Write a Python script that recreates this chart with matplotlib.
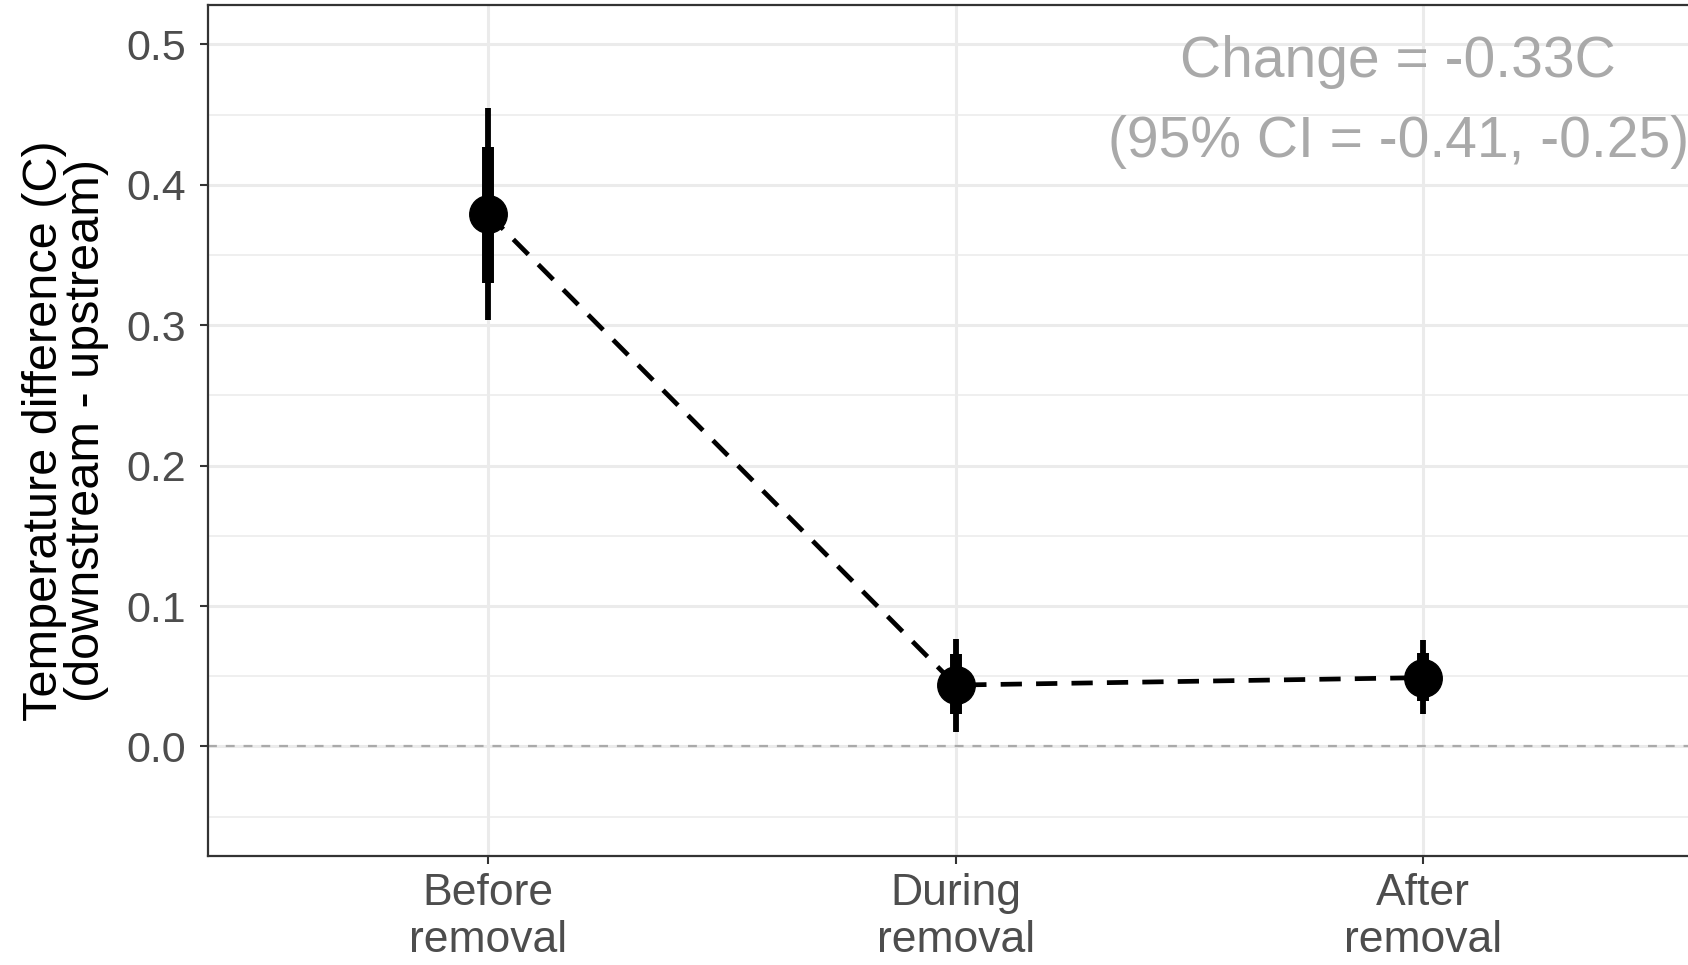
import numpy as np
import matplotlib.pyplot as plt

# Datos
periodos = ['Before\nremoval', 'During\nremoval', 'After\nremoval']
media = [0.379, 0.0437, 0.049]
ic95_bajo = [0.304, 0.010, 0.023]
ic95_alto = [0.455, 0.0767, 0.076]
ic50_bajo = [0.330, 0.023, 0.032]
ic50_alto = [0.427, 0.066, 0.0667]
texto_cambio = 'Change = -0.33C\n(95% CI = -0.41, -0.25)'

plt.rcParams['font.family'] = ['Liberation Sans', 'DejaVu Sans']

fig = plt.figure(figsize=(16.88, 9.65), dpi=100)
ax = fig.add_axes([0.1232, 0.1130, 0.886, 0.8818])

x = np.arange(1, len(periodos) + 1)

# Rejilla estilo theme_bw
ax.set_axisbelow(True)
ax.set_yticks(np.arange(0, 0.51, 0.1))
ax.set_yticks(np.arange(-0.05, 0.55, 0.1), minor=True)
ax.set_xticks(x)
ax.grid(which='major', color='#ebebeb', linewidth=2.2)
ax.grid(which='minor', axis='y', color='#ebebeb', linewidth=1.1)

# Línea horizontal en cero
ax.axhline(0, color='#aaaaaa', linestyle=(0, (4, 4)), linewidth=1.6, zorder=1)

# Línea discontinua entre medias
ax.plot(x, media, color='black', linewidth=3.4, linestyle=(0, (4.5, 3)), zorder=2)

# Intervalos
ax.vlines(x, ic95_bajo, ic95_alto, color='black', linewidth=4.2, capstyle='butt', zorder=3)
ax.vlines(x, ic50_bajo, ic50_alto, color='black', linewidth=8.6, capstyle='butt', zorder=3)
ax.plot(x, media, 'o', color='black', markersize=27, zorder=4)

ax.text(2.947, 0.459, texto_cambio, ha='center', va='center', color='#a9a9a9',
        fontsize=41, linespacing=1.62)

ax.set_xlim(0.4, 3.6)
ax.set_ylim(-0.078, 0.528)
ax.set_xticklabels(periodos, fontsize=32, color='#4d4d4d', linespacing=1.2)
ax.set_yticklabels(['0.0', '0.1', '0.2', '0.3', '0.4', '0.5'], fontsize=31, color='#4d4d4d')
ax.set_ylabel('Temperature difference (C)\n(downstream - upstream)', fontsize=35,
              linespacing=0.92, labelpad=12)
ax.tick_params(axis='y', which='major', pad=10)
ax.tick_params(which='major', length=6, width=1.5, color='#333333')
ax.tick_params(axis='x', which='major', pad=6)
ax.tick_params(which='minor', length=0)
for s in ax.spines.values():
    s.set_color('#333333')
    s.set_linewidth(1.6)

fig.savefig('out.png', dpi=100)
